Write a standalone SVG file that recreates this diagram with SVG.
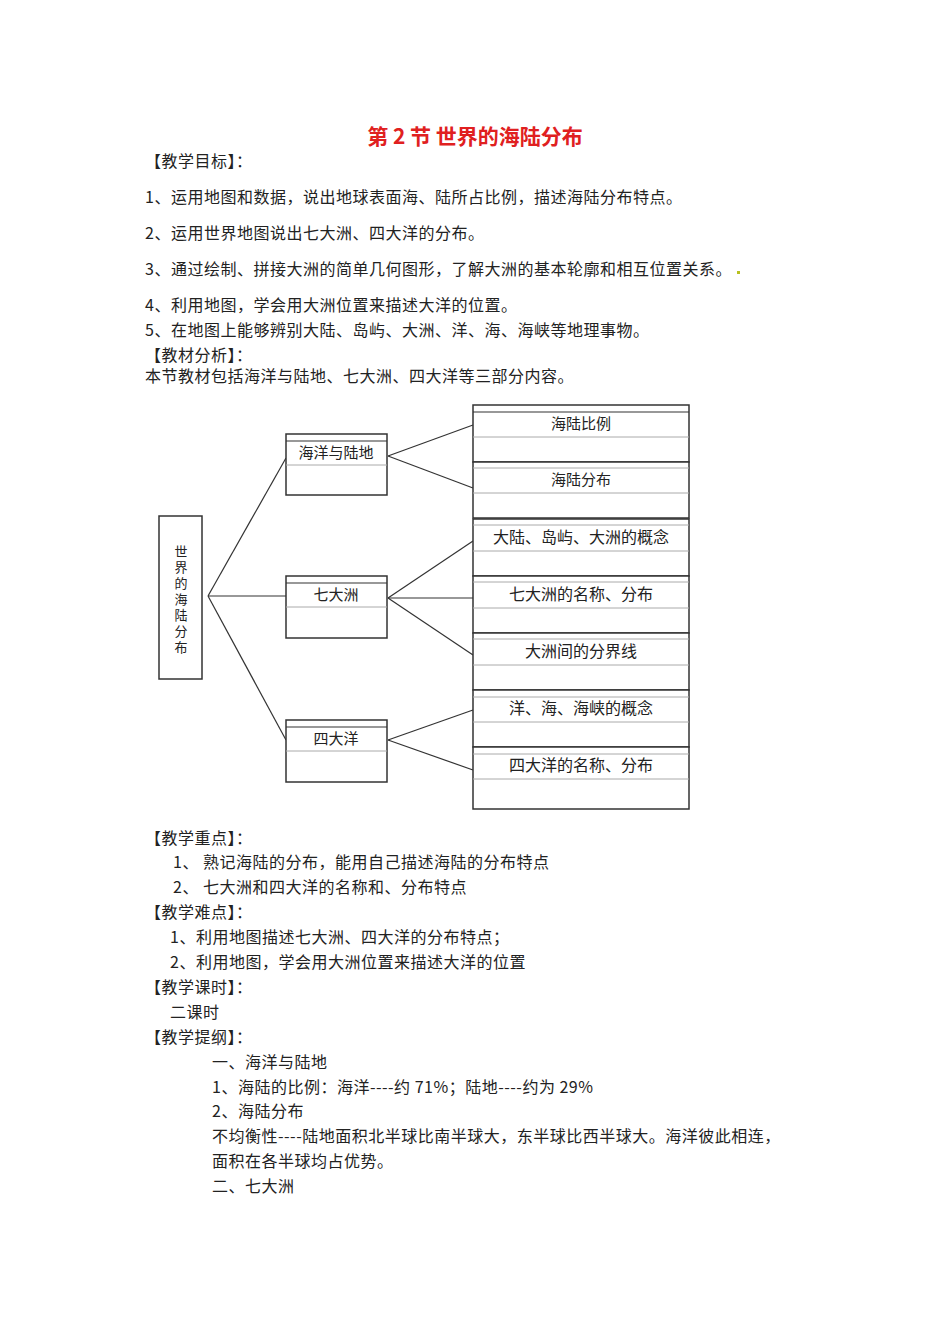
<svg xmlns="http://www.w3.org/2000/svg" width="950" height="1344" viewBox="0 0 950 1344">
<style>
text{font-family:"Noto Sans CJK SC","Liberation Serif",serif;font-size:16px;letter-spacing:0.5px;fill:#222}
.d{font-family:"Noto Sans CJK SC",sans-serif;font-size:15px;letter-spacing:0}
.v{font-family:"Noto Sans CJK SC",sans-serif;font-size:13px;letter-spacing:0;text-anchor:middle}
.b{fill:#fff;stroke:#333;stroke-width:1.5}
.g{stroke:#aaa;stroke-width:1}
.k{stroke:#333;stroke-width:1.2;fill:none}
</style>
<rect width="950" height="1344" fill="#fff"/>
<text x="475" y="144" text-anchor="middle" style="font-size:21px;font-weight:bold;fill:#e02020;letter-spacing:0">第 2 节  世界的海陆分布</text>
<text x="145" y="167">【教学目标】：</text>
<text x="145" y="203">1、运用地图和数据，说出地球表面海、陆所占比例，描述海陆分布特点。</text>
<text x="145" y="239">2、运用世界地图说出七大洲、四大洋的分布。</text>
<text x="145" y="275">3、通过绘制、拼接大洲的简单几何图形，了解大洲的基本轮廓和相互位置关系。</text>
<rect x="737" y="271" width="3" height="3" fill="#b8c020"/>
<text x="145" y="311">4、利用地图，学会用大洲位置来描述大洋的位置。</text>
<text x="145" y="336">5、在地图上能够辨别大陆、岛屿、大洲、洋、海、海峡等地理事物。</text>
<text x="145" y="361">【教材分析】：</text>
<text x="145" y="382">本节教材包括海洋与陆地、七大洲、四大洋等三部分内容。</text>
<g id="connectors" class="k">
<line x1="208" y1="596" x2="286" y2="458"/>
<line x1="208" y1="596" x2="286" y2="596"/>
<line x1="208" y1="596" x2="286" y2="740"/>
<line x1="388" y1="456" x2="473" y2="425"/>
<line x1="388" y1="456" x2="473" y2="488"/>
<line x1="388" y1="598" x2="473" y2="541"/>
<line x1="388" y1="598" x2="473" y2="598"/>
<line x1="388" y1="598" x2="473" y2="655"/>
<line x1="388" y1="740" x2="473" y2="710"/>
<line x1="388" y1="740" x2="473" y2="770"/>
</g>
<g id="root"><rect class="b" x="159" y="516" width="43" height="163"/>
<text class="v" x="181" y="556">世</text><text class="v" x="181" y="572">界</text><text class="v" x="181" y="588">的</text><text class="v" x="181" y="604">海</text><text class="v" x="181" y="620">陆</text><text class="v" x="181" y="636">分</text><text class="v" x="181" y="652">布</text></g>
<g id="n1"><rect class="b" x="286" y="434" width="101" height="61"/><line class="k" x1="286" y1="441" x2="387" y2="441"/><line class="g" x1="286" y1="465" x2="387" y2="465"/><text class="d" x="336" y="458" text-anchor="middle">海洋与陆地</text></g>
<g id="n2"><rect class="b" x="286" y="576" width="101" height="62"/><line class="k" x1="286" y1="583" x2="387" y2="583"/><line class="g" x1="286" y1="607" x2="387" y2="607"/><text class="d" x="336" y="600" text-anchor="middle">七大洲</text></g>
<g id="n3"><rect class="b" x="286" y="720" width="101" height="62"/><line class="k" x1="286" y1="727" x2="387" y2="727"/><line class="g" x1="286" y1="751" x2="387" y2="751"/><text class="d" x="336" y="744" text-anchor="middle">四大洋</text></g>
<g id="r1"><rect class="b" x="473" y="405" width="216" height="57"/><line class="k" x1="473" y1="412" x2="689" y2="412"/><line class="g" x1="473" y1="437" x2="689" y2="437"/><text class="d" x="581" y="429" text-anchor="middle">海陆比例</text></g>
<g id="r2"><rect class="b" x="473" y="462" width="216" height="56"/><line class="g" x1="473" y1="468" x2="689" y2="468"/><line class="g" x1="473" y1="493" x2="689" y2="493"/><text class="d" x="581" y="485" text-anchor="middle">海陆分布</text></g>
<g id="r3"><rect class="b" x="473" y="519" width="216" height="57"/><line class="g" x1="473" y1="525" x2="689" y2="525"/><line class="g" x1="473" y1="551" x2="689" y2="551"/><text class="d" x="581" y="543" text-anchor="middle" style="font-size:16px">大陆、岛屿、大洲的概念</text></g>
<g id="r4"><rect class="b" x="473" y="576" width="216" height="57"/><line class="g" x1="473" y1="582" x2="689" y2="582"/><line class="g" x1="473" y1="608" x2="689" y2="608"/><text class="d" x="581" y="600" text-anchor="middle" style="font-size:16px">七大洲的名称、分布</text></g>
<g id="r5"><rect class="b" x="473" y="633" width="216" height="57"/><line class="g" x1="473" y1="639" x2="689" y2="639"/><line class="g" x1="473" y1="665" x2="689" y2="665"/><text class="d" x="581" y="657" text-anchor="middle" style="font-size:16px">大洲间的分界线</text></g>
<g id="r6"><rect class="b" x="473" y="690" width="216" height="57"/><line class="g" x1="473" y1="697" x2="689" y2="697"/><line class="g" x1="473" y1="722" x2="689" y2="722"/><text class="d" x="581" y="714" text-anchor="middle" style="font-size:16px">洋、海、海峡的概念</text></g>
<g id="r7"><rect class="b" x="473" y="747" width="216" height="62"/><line class="g" x1="473" y1="754" x2="689" y2="754"/><line class="g" x1="473" y1="779" x2="689" y2="779"/><text class="d" x="581" y="771" text-anchor="middle" style="font-size:16px">四大洋的名称、分布</text></g>
<text x="145" y="844">【教学重点】：</text>
<text x="173" y="868">1、   熟记海陆的分布，能用自己描述海陆的分布特点</text>
<text x="173" y="893">2、   七大洲和四大洋的名称和、分布特点</text>
<text x="145" y="918">【教学难点】：</text>
<text x="170" y="943">1、利用地图描述七大洲、四大洋的分布特点；</text>
<text x="170" y="968">2、利用地图，学会用大洲位置来描述大洋的位置</text>
<text x="145" y="993">【教学课时】：</text>
<text x="170" y="1018">二课时</text>
<text x="145" y="1043">【教学提纲】：</text>
<text x="212" y="1068">一、海洋与陆地</text>
<text x="212" y="1093">1、海陆的比例：海洋----约 71%；陆地----约为 29%</text>
<text x="212" y="1117">2、海陆分布</text>
<text x="212" y="1142">不均衡性----陆地面积北半球比南半球大，东半球比西半球大。海洋彼此相连，</text>
<text x="212" y="1167">面积在各半球均占优势。</text>
<text x="212" y="1192">二、七大洲</text>
</svg>
